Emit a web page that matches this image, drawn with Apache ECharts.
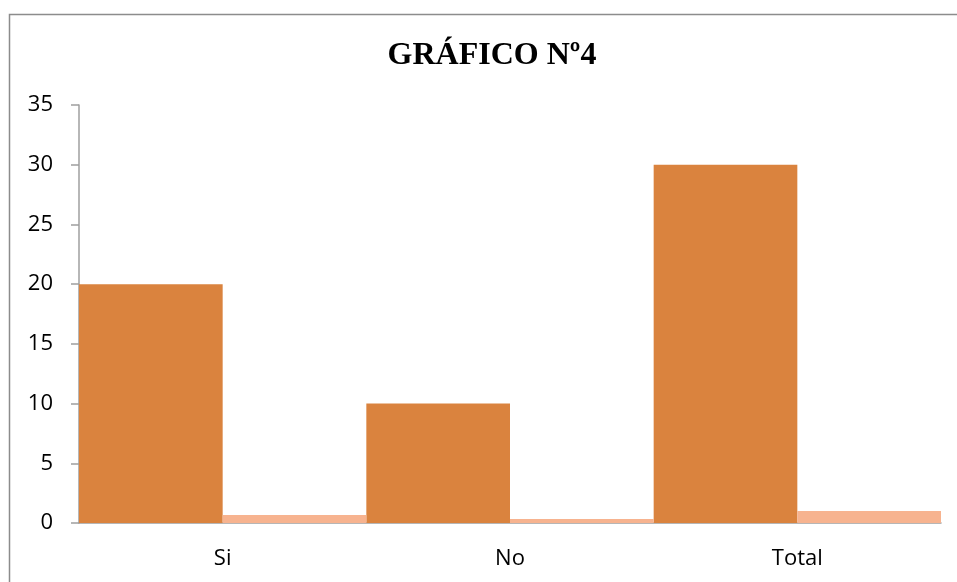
<!DOCTYPE html>
<html><head><meta charset="utf-8">
<script src="https://cdn.jsdelivr.net/npm/echarts@6/dist/echarts.min.js"></script>
<style>html,body{margin:0;padding:0;background:#fff}#c{width:957px;height:582px}</style>
</head><body><div id="c"></div>
<script>
const categories = ['Si', 'No', 'Total'];
const cantidad = [20, 10, 30];
const porcentaje = [0.667, 0.333, 1];
const yTicks = {min: 0, max: 35, interval: 5};
const titleText = 'GRÁFICO Nº4';

const chart = echarts.init(document.getElementById('c'), null, {renderer: 'canvas'});
chart.setOption({
  animation: false,
  backgroundColor: '#ffffff',
  title: {
    text: titleText, left: 487, top: 35, textAlign: 'center',
    textStyle: {fontFamily: 'Liberation Serif', fontWeight: 'bold', fontSize: 32, color: '#000'}
  },
  graphic: [{
    type: 'rect', silent: true,
    shape: {x: 9.5, y: 14.5, width: 1000, height: 700},
    style: {fill: 'none', stroke: '#8c8c8c', lineWidth: 1.5}
  }],
  grid: {left: 79, right: 16, top: 105, bottom: 59, containLabel: false},
  xAxis: {
    type: 'category', data: categories,
    axisLine: {lineStyle: {color: '#9f9f9f', width: 1.5}},
    axisTick: {show: false},
    axisLabel: {fontFamily: 'Open Sans', fontSize: 22, color: '#000', margin: 25}
  },
  yAxis: {
    type: 'value', min: yTicks.min, max: yTicks.max, interval: yTicks.interval,
    axisLine: {show: true, lineStyle: {color: '#9f9f9f', width: 1.5}},
    axisTick: {show: true, length: 8, lineStyle: {color: '#9f9f9f', width: 1.5}},
    splitLine: {show: false},
    axisLabel: {fontFamily: 'Open Sans', fontSize: 22, color: '#000', margin: 26}
  },
  series: [
    {type: 'bar', data: cantidad, itemStyle: {color: '#DA833E'}, barGap: '0%', barCategoryGap: '0%'},
    {type: 'bar', data: porcentaje, itemStyle: {color: '#F7B38F'}, barGap: '0%', barCategoryGap: '0%'}
  ]
});
</script></body></html>
